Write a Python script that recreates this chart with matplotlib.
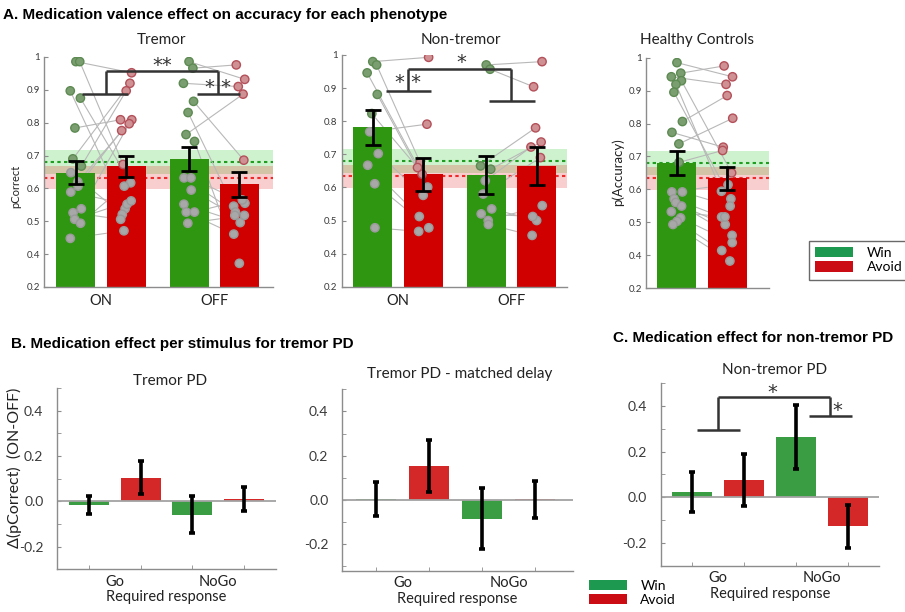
import numpy as np
import matplotlib.pyplot as plt
from matplotlib.patches import Patch

W, H = 905, 612
plt.rcParams['font.family'] = ['Lato', 'DejaVu Sans']

# ---------------- data ----------------
sessions = ['ON', 'OFF']
valences = ['Win', 'Avoid']

# healthy controls: win, avoid (also used as reference band in the PD panels)
hc_mean = [0.680, 0.633]
hc_sem = [0.037, 0.036]

tremor_win_mean = [0.648, 0.690]
tremor_win_sem = [0.034, 0.036]
tremor_avoid_mean = [0.667, 0.612]
tremor_avoid_sem = [0.031, 0.039]

nontremor_win_mean = [0.781, 0.637]
nontremor_win_sem = [0.053, 0.057]
nontremor_avoid_mean = [0.639, 0.665]
nontremor_avoid_sem = [0.050, 0.057]

# per-subject accuracy, same index = same subject
tremor_on_win = [0.986, 0.986, 0.897, 0.875, 0.784, 0.690, 0.668, 0.648,
                 0.620, 0.607, 0.589, 0.538, 0.526, 0.506, 0.494, 0.448]
tremor_on_avoid = [0.952, 0.673, 0.538, 0.617, 0.809, 0.920, 0.897, 0.521,
                   0.809, 0.776, 0.552, 0.797, 0.506, 0.562, 0.607, 0.471]
tremor_off_win = [0.986, 0.966, 0.920, 0.865, 0.831, 0.764, 0.743,
                  0.632, 0.632, 0.595, 0.552, 0.528, 0.528, 0.494]
tremor_off_avoid = [0.932, 0.976, 0.910, 0.686, 0.546, 0.887, 0.372,
                    0.528, 0.555, 0.518, 0.496, 0.565, 0.461, 0.518]

nontremor_on_win = [0.980, 0.970, 0.946, 0.881, 0.823, 0.768, 0.702, 0.667, 0.611, 0.478]
nontremor_on_avoid = [0.993, 0.675, 0.640, 0.601, 0.660, 0.791, 0.576, 0.512, 0.478, 0.467]
nontremor_off_win = [0.970, 0.957, 0.665, 0.655, 0.620, 0.580, 0.535, 0.520, 0.500, 0.488]
nontremor_off_avoid = [0.980, 0.904, 0.780, 0.737, 0.722, 0.690, 0.500, 0.512, 0.545, 0.455]

hc_win = [0.985, 0.953, 0.942, 0.930, 0.919, 0.895, 0.806, 0.773, 0.738, 0.682,
          0.592, 0.592, 0.571, 0.560, 0.549, 0.532, 0.513, 0.503, 0.493]
hc_avoid = [0.942, 0.975, 0.919, 0.650, 0.594, 0.571, 0.885, 0.728, 0.816, 0.718,
            0.614, 0.549, 0.516, 0.460, 0.493, 0.516, 0.438, 0.414, 0.382]

acc_ticks = [0.3, 0.4, 0.5, 0.6, 0.7, 0.8, 0.9, 1.0]
acc_tick_labels = ['0.2', '0.4', '0.5', '0.6', '0.7', '0.8', '0.9', '1']

# medication effect (ON-OFF), order: Go-Win, Go-Avoid, NoGo-Win, NoGo-Avoid
stimuli = ['Go', 'NoGo']
tremor_pd_delta = [-0.015, 0.105, -0.060, 0.009]
tremor_pd_sem = [0.040, 0.071, 0.082, 0.053]
matched_delta = [0.004, 0.153, -0.085, 0.002]
matched_sem = [0.077, 0.118, 0.138, 0.083]
nontremor_pd_delta = [0.023, 0.075, 0.263, -0.128]
nontremor_pd_sem = [0.086, 0.112, 0.139, 0.093]
delta_ticks = [-0.2, 0.0, 0.2, 0.4]

# ---------------- style ----------------
GREEN, RED = '#2f9612', '#d10000'
GREEN_B, RED_B = '#3a9d44', '#d42828'
LEG_GREEN, LEG_RED = '#1d9a50', '#cc0c14'
DOT_GREEN, DOT_GREEN_EDGE = '#7b9e70', '#5d8a52'
DOT_RED, DOT_RED_EDGE = '#cf9193', '#b4505a'
DOT_GRAY, DOT_GRAY_EDGE = '#a8a8a8', '#9a9a9a'
AXIS_C, LABEL_C = '#8c8c8c', '#3a3a3a'

fig = plt.figure(figsize=(W / 100, H / 100), dpi=100)


def add_axes_px(left, top, right, bottom):
    return fig.add_axes([left / W, 1 - bottom / H, (right - left) / W, (bottom - top) / H])


def ftext(x, y, s, **kw):
    kw.setdefault('ha', 'center')
    kw.setdefault('va', 'center')
    return fig.text(x / W, 1 - y / H, s, **kw)


def style_axes(ax):
    for side in ('top', 'right'):
        ax.spines[side].set_visible(False)
    for side in ('left', 'bottom'):
        ax.spines[side].set_color(AXIS_C)
        ax.spines[side].set_linewidth(1.0)
    ax.tick_params(which='both', colors=AXIS_C, labelcolor=LABEL_C, direction='in')


def bracket(ax, x0, x1, y, lw=1.8):
    ax.plot([x0, x1], [y, y], color='#333333', lw=lw, solid_capstyle='butt', zorder=6)


def vline(ax, x, y0, y1, lw=1.8):
    ax.plot([x, x], [y0, y1], color='#333333', lw=lw, solid_capstyle='butt', zorder=6)


def stars(ax, x, y, s, size=14):
    ax.text(x, y, s, ha='center', va='center', fontsize=size, family='DejaVu Sans',
            color='#333333', zorder=7)


def accuracy_panel(ax, win_mean, win_sem, avoid_mean, avoid_sem, subjects, xlim):
    off, bw = 0.222, 0.345
    centers = np.arange(1, len(win_mean) + 1)
    xw, xa = centers - off, centers + off

    # healthy-control reference bands
    for m, s, band, line in zip(hc_mean, hc_sem, [(0.2, 0.8, 0.2), (0.9, 0.2, 0.2)],
                                ['#1f9e1f', '#ee2a2a']):
        ax.axhspan(m - s, m + s, color=band, alpha=0.24, lw=0, zorder=0)
        ax.axhline(m, color=line, ls=(0, (1.6, 1.6)), lw=1.5, zorder=1)

    ax.bar(xw, win_mean, bw, color=GREEN, zorder=2)
    ax.bar(xa, avoid_mean, bw, color=RED, zorder=2)

    for k, (win, avoid) in enumerate(subjects):
        n = len(win)
        jw = xw[k] + 0.05 * np.sin(np.arange(n) * 2.4)
        ja = xa[k] + 0.05 * np.sin(np.arange(n) * 2.4 + 1.3)
        for i in range(n):
            ax.plot([jw[i], ja[i]], [win[i], avoid[i]], color='#b8b8b8', lw=0.8, zorder=1.5)
        above_w = np.array(win) > win_mean[k]
        above_a = np.array(avoid) > avoid_mean[k]
        ax.scatter(jw, win, s=36, zorder=4, linewidths=1.0,
                   c=[DOT_GREEN if a else DOT_GRAY for a in above_w],
                   edgecolors=[DOT_GREEN_EDGE if a else DOT_GRAY_EDGE for a in above_w])
        ax.scatter(ja, avoid, s=36, zorder=4, linewidths=1.0,
                   c=[DOT_RED if a else DOT_GRAY for a in above_a],
                   edgecolors=[DOT_RED_EDGE if a else DOT_GRAY_EDGE for a in above_a])

    ax.errorbar(xw, win_mean, yerr=win_sem, fmt='none', ecolor='k', elinewidth=2,
                capsize=5.5, capthick=2, zorder=5)
    ax.errorbar(xa, avoid_mean, yerr=avoid_sem, fmt='none', ecolor='k', elinewidth=2,
                capsize=5.5, capthick=2, zorder=5)

    ax.set_xlim(*xlim)
    ax.set_ylim(0.3, 1.0)
    ax.set_yticks(acc_ticks)
    ax.set_yticklabels(acc_tick_labels, fontsize=7)
    style_axes(ax)
    ax.tick_params(axis='y', length=3, pad=3)
    ax.set_xticks(centers if len(centers) > 1 else [])
    if len(centers) > 1:
        ax.set_xticklabels(sessions, fontsize=10.5, color='#222222')
    ax.tick_params(axis='x', length=0, pad=5)
    return ax


def delta_panel(ax, delta, sem, xlim, ylim):
    x = np.arange(1, len(delta) + 1)
    ax.bar(x, delta, 0.77, color=[GREEN_B, RED_B] * 2, zorder=2)
    ax.axhline(0, color='#a3a3a3', lw=1.3, zorder=2.5)
    ax.errorbar(x, delta, yerr=sem, fmt='none', ecolor='k', elinewidth=2.6,
                capsize=2.2, capthick=2.6, zorder=3)
    ax.set_xlim(*xlim)
    ax.set_ylim(*ylim)
    style_axes(ax)
    ax.set_yticks(delta_ticks)
    ax.set_yticklabels([f'{v:.1f}' for v in delta_ticks], fontsize=10)
    ax.set_yticks(np.arange(-0.3, 0.51, 0.1), minor=True)
    ax.set_xticks([1.5, 3.5])
    ax.set_xticklabels(stimuli, fontsize=10.5, color='#222222')
    ax.set_xticks(x, minor=True)
    ax.tick_params(axis='x', which='major', length=0, pad=4)
    ax.tick_params(axis='y', which='major', length=3, pad=10)
    ax.tick_params(which='minor', length=3)
    ax.set_xlabel('Required response', fontsize=10.5, color='#222222', labelpad=1)
    return ax


# ---------------- A: accuracy per phenotype ----------------
ax_t = accuracy_panel(add_axes_px(44, 57, 273, 287), tremor_win_mean, tremor_win_sem,
                      tremor_avoid_mean, tremor_avoid_sem,
                      [(tremor_on_win, tremor_on_avoid), (tremor_off_win, tremor_off_avoid)],
                      (0.496, 2.52))
bracket(ax_t, 0.836, 1.235, 0.888)
vline(ax_t, 1.04, 0.888, 0.958)
bracket(ax_t, 1.04, 2.03, 0.958)
vline(ax_t, 2.03, 0.958, 0.888)
bracket(ax_t, 1.845, 2.226, 0.888)
stars(ax_t, 1.544, 0.975, '**')
stars(ax_t, 2.03, 0.907, '* *')

ax_n = accuracy_panel(add_axes_px(341.7, 55, 567, 286.7), nontremor_win_mean, nontremor_win_sem,
                      nontremor_avoid_mean, nontremor_avoid_sem,
                      [(nontremor_on_win, nontremor_on_avoid),
                       (nontremor_off_win, nontremor_off_avoid)],
                      (0.504, 2.49))
bracket(ax_n, 0.894, 1.29, 0.891)
vline(ax_n, 1.09, 0.891, 0.958)
bracket(ax_n, 1.09, 2.0, 0.958)
vline(ax_n, 2.0, 0.958, 0.86)
bracket(ax_n, 1.80, 2.21, 0.86)
stars(ax_n, 1.56, 0.978, '*')
stars(ax_n, 1.09, 0.918, '* *')

ax_h = accuracy_panel(add_axes_px(646, 57.7, 769, 288), [hc_mean[0]], [hc_sem[0]],
                      [hc_mean[1]], [hc_sem[1]], [(hc_win, hc_avoid)], (0.504, 1.593))

ftext(161, 40, 'Tremor', fontsize=11, color='#222222')
ftext(461, 40.5, 'Non-tremor', fontsize=11, color='#222222')
ftext(697, 40, 'Healthy Controls', fontsize=11, color='#222222')
ftext(15.5, 186, 'pCorrect', rotation=90, fontsize=8, color='#222222')
ftext(618, 172, 'p(Accuracy)', rotation=90, fontsize=9.5, color='#222222')

leg = fig.legend(handles=[Patch(facecolor=LEG_GREEN, lw=0), Patch(facecolor=LEG_RED, lw=0)],
                 labels=valences, loc='upper left', bbox_to_anchor=(809 / W, 1 - 241 / H),
                 frameon=True, fancybox=False, edgecolor='#444444', fontsize=10,
                 handlelength=2.7, handleheight=0.75, labelspacing=0.15, borderpad=0.45,
                 handletextpad=1.0, borderaxespad=0)
leg.get_frame().set_linewidth(1.0)

# ---------------- B / C: medication effect ----------------
ax_b1 = delta_panel(add_axes_px(57.3, 388, 276, 569.3), tremor_pd_delta, tremor_pd_sem,
                    (0.387, 4.62), (-0.3, 0.5))
ax_b2 = delta_panel(add_axes_px(342.3, 389.3, 572.7, 570.7), matched_delta, matched_sem,
                    (0.364, 4.71), (-0.32, 0.472))
ax_c = delta_panel(add_axes_px(660.7, 383, 879, 565.7), nontremor_pd_delta, nontremor_pd_sem,
                   (0.404, 4.6), (-0.3, 0.5))

bracket(ax_c, 1.10, 1.92, 0.296)
vline(ax_c, 1.5, 0.296, 0.44)
bracket(ax_c, 1.5, 3.66, 0.44)
vline(ax_c, 3.66, 0.44, 0.355)
bracket(ax_c, 3.26, 4.08, 0.355)
stars(ax_c, 2.54, 0.46, '*')
stars(ax_c, 3.8, 0.38, '*')

ftext(170, 381, 'Tremor PD', fontsize=11, color='#222222')
ftext(460, 374, 'Tremor PD - matched delay', fontsize=11, color='#222222')
ftext(775, 370, 'Non-tremor PD', fontsize=11, color='#222222')
ftext(14, 468, 'Δ(pCorrect)  (ON-OFF)', rotation=90, fontsize=11.5, color='#222222')

fig.legend(handles=[Patch(facecolor=LEG_GREEN, lw=0), Patch(facecolor=LEG_RED, lw=0)],
           labels=valences, loc='upper left', bbox_to_anchor=(589 / W, 1 - 580 / H),
           frameon=False, fontsize=10, handlelength=2.7, handleheight=0.75,
           labelspacing=0.15, borderpad=0, handletextpad=1.0, borderaxespad=0)

# ---------------- panel headings ----------------
ftext(3, 14.5, 'A. Medication valence effect on accuracy for each phenotype', ha='left',
      fontsize=11, fontweight='bold', family='Liberation Sans')
ftext(11, 344, 'B. Medication effect per stimulus for tremor PD', ha='left',
      fontsize=11, fontweight='bold', family='Liberation Sans')
ftext(613, 338, 'C. Medication effect for non-tremor PD', ha='left',
      fontsize=11, fontweight='bold', family='Liberation Sans')

fig.savefig('out.png', dpi=100)
